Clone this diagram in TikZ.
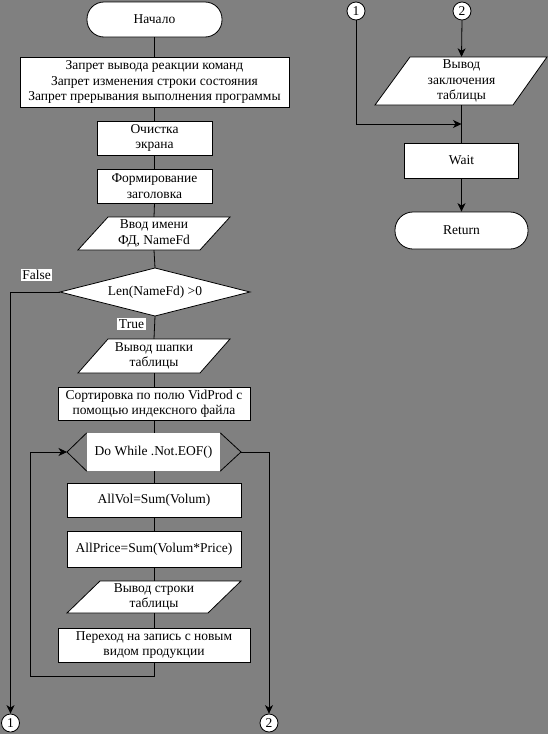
\documentclass[tikz,border=0pt]{standalone}
\usepackage{fontspec}
\setmainfont{Liberation Serif}
\usetikzlibrary{arrows.meta}
\definecolor{bg}{RGB}{128,128,128}
\tikzset{
  txt/.style={font=\fontsize{13.5}{15.5}\selectfont, align=center, inner sep=0pt},
  procbox/.style={txt, draw, fill=white, line width=0.8pt},
  term/.style={procbox, rounded corners=17pt},
  plain/.style={txt},
  shapeline/.style={draw, fill=white, line width=0.8pt},
  conn/.style={circle, draw, fill=white, line width=0.8pt, minimum size=18pt, inner sep=0pt, font=\fontsize{13.5}{13.5}\selectfont},
  wire/.style={line width=0.8pt},
  arr/.style={wire, -{Stealth[length=8.5pt,width=8pt,inset=2.5pt]}},
  lbl/.style={txt, fill=white, inner sep=1.5pt}
}
\begin{document}
\begin{tikzpicture}[x=1pt,y=-1pt]
\fill[bg] (0,0) rectangle (548,734);
\useasboundingbox (0,0) rectangle (548,734);

% left column
\node[term, minimum width=135pt, minimum height=35pt] (start) at (154.5,19.5) {Начало};
\node[procbox, minimum width=269pt, minimum height=50pt] (b1) at (154.5,82)
  {Запрет вывода реакции команд\\Запрет изменения строки состояния\\Запрет прерывания выполнения программы};
\node[procbox, minimum width=115pt, minimum height=34pt] (b2) at (154.5,138) {Очистка\\экрана};
\node[procbox, minimum width=115pt, minimum height=34pt] (b3) at (154.5,186) {Формирование\\заголовка};

\draw[shapeline] (78,250) -- (108,217) -- (230,217) -- (200,250) -- cycle;
\node[plain, minimum width=122pt, minimum height=33pt] (in1) at (154,233.5) {Ввод имени\\ФД, NameFd};

\draw[shapeline] (60,292) -- (155,268) -- (250,292) -- (155,316) -- cycle;
\node[plain, minimum width=190pt, minimum height=48pt] (dec) at (155,292) {Len(NameFd) >0};

\node[lbl] (lf) at (36.5,275) {False};
\node[lbl] (lt) at (131.5,324) {True};

\draw[shapeline] (78,373) -- (108,339) -- (230,339) -- (200,373) -- cycle;
\node[plain, minimum width=122pt, minimum height=34pt] (in2) at (154,356) {Вывод шапки\\таблицы};

\node[procbox, minimum width=192pt, minimum height=33pt] (b4) at (154,403.5)
  {Сортировка по полю VidProd с\\помощью индексного файла};

\node[plain, fill=white, minimum width=133pt, minimum height=38pt] (loop) at (153.5,452) {Do While .Not.EOF()};
\coordinate (lpL) at (67,452);
\coordinate (lpR) at (241,452);
\draw[wire] (loop.north west) -- (lpL) -- (loop.south west);
\draw[wire] (loop.north east) -- (lpR) -- (loop.south east);

\node[procbox, minimum width=174pt, minimum height=34pt] (b5) at (154,500) {AllVol=Sum(Volum)};
\node[procbox, minimum width=174pt, minimum height=36pt] (b6) at (154,549) {AllPrice=Sum(Volum*Price)};

\draw[shapeline] (67,613) -- (100,581) -- (241,581) -- (208,613) -- cycle;
\node[plain, minimum width=141pt, minimum height=32pt] (out1) at (154,597) {Вывод строки\\таблицы};

\node[procbox, minimum width=192pt, minimum height=34pt] (b7) at (154,645)
  {Переход на запись с новым\\видом продукции};

\node[conn] (c1b) at (10.5,723) {1};
\node[conn] (c2b) at (269,723) {2};

% right column
\node[conn] (c1t) at (356,11) {1};
\node[conn] (c2t) at (462,11) {2};
\draw[shapeline] (375,105) -- (410,57) -- (547,57) -- (513,105) -- cycle;
\node[plain, minimum width=137pt, minimum height=48pt] (out2) at (461.5,81) {Вывод\\заключения\\таблицы};
\node[procbox, minimum width=114pt, minimum height=35pt] (wait) at (461.5,160.5) {Wait};
\node[term, minimum width=133pt, minimum height=37pt, rounded corners=18pt] (ret) at (461.5,230.5) {Return};

% connectors left
\draw[wire] (start.south) -- (b1.north);
\draw[wire] (b1.south) -- (b2.north);
\draw[wire] (b2.south) -- (b3.north);
\draw[wire] (b3.south) -- (in1.north);
\draw[wire] (in1.south) -- (dec.north);
\draw[wire] (dec.south) -- (in2.north);
\draw[wire] (in2.south) -- (b4.north);
\draw[wire] (b4.south) -- (b4.south |- loop.north);
\draw[wire] (b5.north |- loop.south) -- (b5.north);
\draw[wire] (b5.south) -- (b6.north);
\draw[wire] (b6.south) -- (out1.north);
\draw[wire] (out1.south) -- (b7.north);
\coordinate (lb) at (30,676);
\coordinate (lback) at (30,452);
\draw[arr] (b7.south) |- (lb) -- (lback) -- (lpL);
\draw[arr] (lpR) -| (c2b.north);
\draw[arr] (dec.west) -| (c1b.north);

% connectors right
\coordinate (j) at (461.5,124);
\draw[arr] (c2t.south) -- (out2.north);
\draw[wire] (out2.south) -- (wait.north);
\draw[arr] (c1t.south) |- (j);
\draw[arr] (wait.south) -- (ret.north);
\end{tikzpicture}
\end{document}
